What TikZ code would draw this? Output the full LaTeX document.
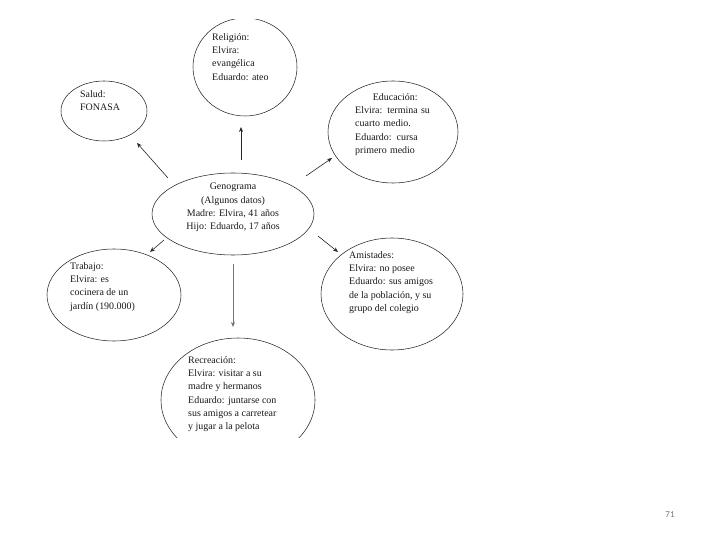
\documentclass[tikz,border=0pt]{standalone}
\usepackage{fontspec}
\setmainfont{Liberation Serif}
\newfontfamily\pagefont{Carlito}
\usetikzlibrary{shapes.geometric,arrows.meta}
\tikzset{
  bubble/.style={ellipse, draw=black!85, line width=0.55pt, inner sep=0pt},
  txt/.style={inner sep=0pt, align=left, font=\fontsize{10}{13.4}\selectfont, text=black!90},
  link/.style={draw=black!85, line width=0.6pt, -{Stealth[length=5pt,width=4pt]}}
}
\begin{document}
\begin{tikzpicture}[x=1bp,y=-1bp]
\useasboundingbox (0,0) rectangle (720,540);
\begin{scope}
\clip (40,20) rectangle (475,437);
\node[bubble, minimum width=104bp, minimum height=98bp] (rel) at (245,67) {};
\node[bubble, minimum width=86bp, minimum height=60bp] (sal) at (104,111) {};
\node[bubble, minimum width=130bp, minimum height=102bp] (edu) at (393,132) {};
\node[bubble, minimum width=162bp, minimum height=82bp] (gen) at (233,214) {};
\node[bubble, minimum width=134bp, minimum height=92bp] (tra) at (114,295) {};
\node[bubble, minimum width=142bp, minimum height=112bp] (ami) at (392,294) {};
\node[bubble, minimum width=154bp, minimum height=124bp] (rec) at (238,400) {};
\end{scope}

\node[txt, anchor=north west] (trel) at (212,33) {Religión:\\Elvira:\\evangélica\\Eduardo: ateo};
\node[txt, anchor=north west] (tsal) at (80,90) {Salud:\\FONASA};
\node[txt, anchor=north west, text width=80bp] (tedu) at (355,93) {\makebox[\linewidth]{Educación:}\\Elvira: termina su\\cuarto medio.\\Eduardo: cursa\\primero medio};
\node[txt, anchor=north, align=center] (tgen) at (233,183) {Genograma\\(Algunos datos)\\Madre: Elvira, 41 años\\Hijo: Eduardo, 17 años};
\node[txt, anchor=north west] (ttra) at (70,262) {Trabajo:\\Elvira: es\\cocinera de un\\jardín (190.000)};
\node[txt, anchor=north west] (tami) at (349,251) {Amistades:\\Elvira: no posee\\Eduardo: sus amigos\\de la población, y su\\grupo del colegio};
\node[txt, anchor=north west] (trec) at (188,356) {Recreación:\\Elvira: visitar a su\\madre y hermanos\\Eduardo: juntarse con\\sus amigos a carretear\\y jugar a la pelota};

\coordinate (gsal) at (168,178);
\coordinate (esal) at (137,143);
\coordinate (grel) at (241,160);
\coordinate (erel) at (241,127);
\coordinate (gedu) at (306,176);
\coordinate (eedu) at (332,158);
\coordinate (gtra) at (164,240);
\coordinate (etra) at (150,252);
\coordinate (gami) at (318,236);
\coordinate (eami) at (338,252);
\coordinate (grec) at (233,264);
\coordinate (erec) at (233,327);

\draw[link] (gsal) -- (esal);
\draw[link] (grel) -- (erel);
\draw[link] (gedu) -- (eedu);
\draw[link] (gtra) -- (etra);
\draw[link] (gami) -- (eami);
\draw[link, draw=black!55] (grec) -- (erec);

\node[inner sep=0pt, font=\pagefont\fontsize{9}{10}\selectfont, text=black!55] (pg) at (670,515) {71};
\end{tikzpicture}
\end{document}
